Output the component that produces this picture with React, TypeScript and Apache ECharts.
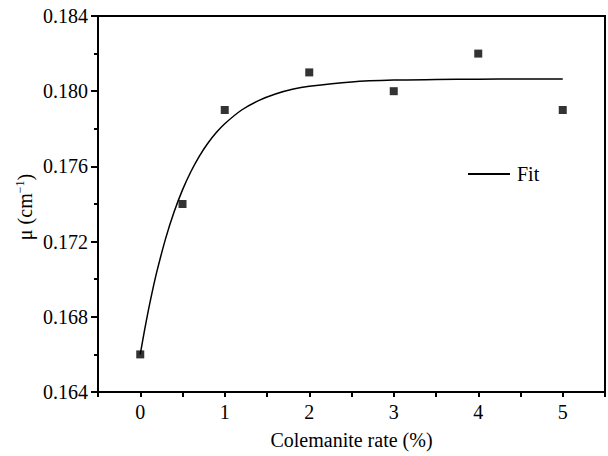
import React, { useEffect, useRef } from "react";
import * as echarts from "echarts";

const rateX = [0, 0.5, 1, 2, 3, 4, 5];
const muY = [0.166, 0.174, 0.179, 0.181, 0.18, 0.182, 0.179];

const fitX = [0, 0.05, 0.1, 0.15, 0.2, 0.3, 0.4, 0.5, 0.6, 0.7, 0.8, 0.9, 1.0, 1.2, 1.4, 1.6, 1.8, 2.0, 2.5, 3.0, 3.5, 4.0, 4.5, 5.0];
const fitY = [0.166, 0.16727, 0.16844, 0.1695, 0.17047, 0.17216, 0.17357, 0.17475, 0.17573, 0.17655, 0.17723, 0.1778, 0.17827, 0.179, 0.1795, 0.17985, 0.1801, 0.18026, 0.18049, 0.18059, 0.18062, 0.18064, 0.18065, 0.18065];

const X_MIN = -0.5;
const X_MAX = 5.5;
const X_STEP = 0.5;
const Y_MIN = 0.164;
const Y_MAX = 0.184;
const Y_STEP = 0.004;

const FONT = "Liberation Serif";

export default function App() {
  const ref = useRef<HTMLDivElement>(null);
  useEffect(() => {
    if (!ref.current) return;
    const chart = echarts.init(ref.current, null, { renderer: "svg" });
    const xLabel = (v: number) =>
      Math.abs(v - Math.round(v)) < 1e-6 && v > -0.1 && v < 5.1 ? String(Math.round(v)) : "";
    chart.setOption({
      animation: false,
      backgroundColor: "#fff",
      grid: {
        left: 98,
        top: 16,
        right: -3,
        bottom: 64,
        show: true,
        borderColor: "#000",
        borderWidth: 2,
      },
      legend: {
        data: [{ name: "Fit", icon: "rect" }],
        left: 463,
        top: 159,
        itemWidth: 42,
        itemHeight: 2,
        textStyle: { fontFamily: FONT, fontSize: 20, color: "#000", padding: [0, 0, 0, 2] },
      },
      xAxis: {
        type: "value",
        min: X_MIN,
        max: X_MAX,
        interval: X_STEP,
        position: "bottom",
        splitLine: { show: false },
        axisLine: { show: true, onZero: false, lineStyle: { color: "#000", width: 2 } },
        axisTick: { show: true, length: 5, lineStyle: { color: "#000", width: 2 } },
        axisLabel: { formatter: xLabel, margin: 10, fontFamily: FONT, fontSize: 20, color: "#000" },
        name: "Colemanite rate (%)",
        nameLocation: "middle",
        nameGap: 38,
        nameTextStyle: { fontFamily: FONT, fontSize: 20, color: "#000" },
      },
      yAxis: {
        type: "value",
        min: Y_MIN,
        max: Y_MAX,
        interval: Y_STEP,
        position: "left",
        splitLine: { show: false },
        axisLine: { show: true, onZero: false, lineStyle: { color: "#000", width: 2 } },
        axisTick: { show: true, length: 7, lineStyle: { color: "#000", width: 2 } },
        minorTick: { show: true, splitNumber: 2, length: 4, lineStyle: { color: "#000", width: 2 } },
        axisLabel: {
          margin: 10,
          fontFamily: FONT,
          fontSize: 20,
          color: "#000",
          formatter: (v: number) => v.toFixed(3),
        },
      },
      graphic: [
        {
          type: "text",
          x: 25,
          y: 207,
          rotation: Math.PI / 2,
          style: {
            text: "{a|μ (cm}{s|−1}{a|)}",
            align: "center",
            verticalAlign: "middle",
            fill: "#000",
            rich: {
              a: { fontFamily: FONT, fontSize: 20, fill: "#000", lineHeight: 22 },
              s: { fontFamily: FONT, fontSize: 12, fill: "#000", verticalAlign: "top", lineHeight: 22 },
            },
          },
        },
      ],
      series: [
        {
          name: "Fit",
          type: "line",
          data: fitX.map((x, i) => [x, fitY[i]]),
          showSymbol: false,
          smooth: 0.3,
          lineStyle: { color: "#000", width: 1.5 },
          itemStyle: { color: "#000" },
        },
        {
          name: "Data",
          type: "scatter",
          data: rateX.map((x, i) => [x, muY[i]]),
          symbol: "rect",
          symbolSize: 8,
          itemStyle: { color: "#000" },
        },
      ],
    });
    return () => chart.dispose();
  }, []);
  return (
    <div
      ref={ref}
      style={{ position: "fixed", left: 0, top: 0, width: 608, height: 456, background: "#fff" }}
    />
  );
}
